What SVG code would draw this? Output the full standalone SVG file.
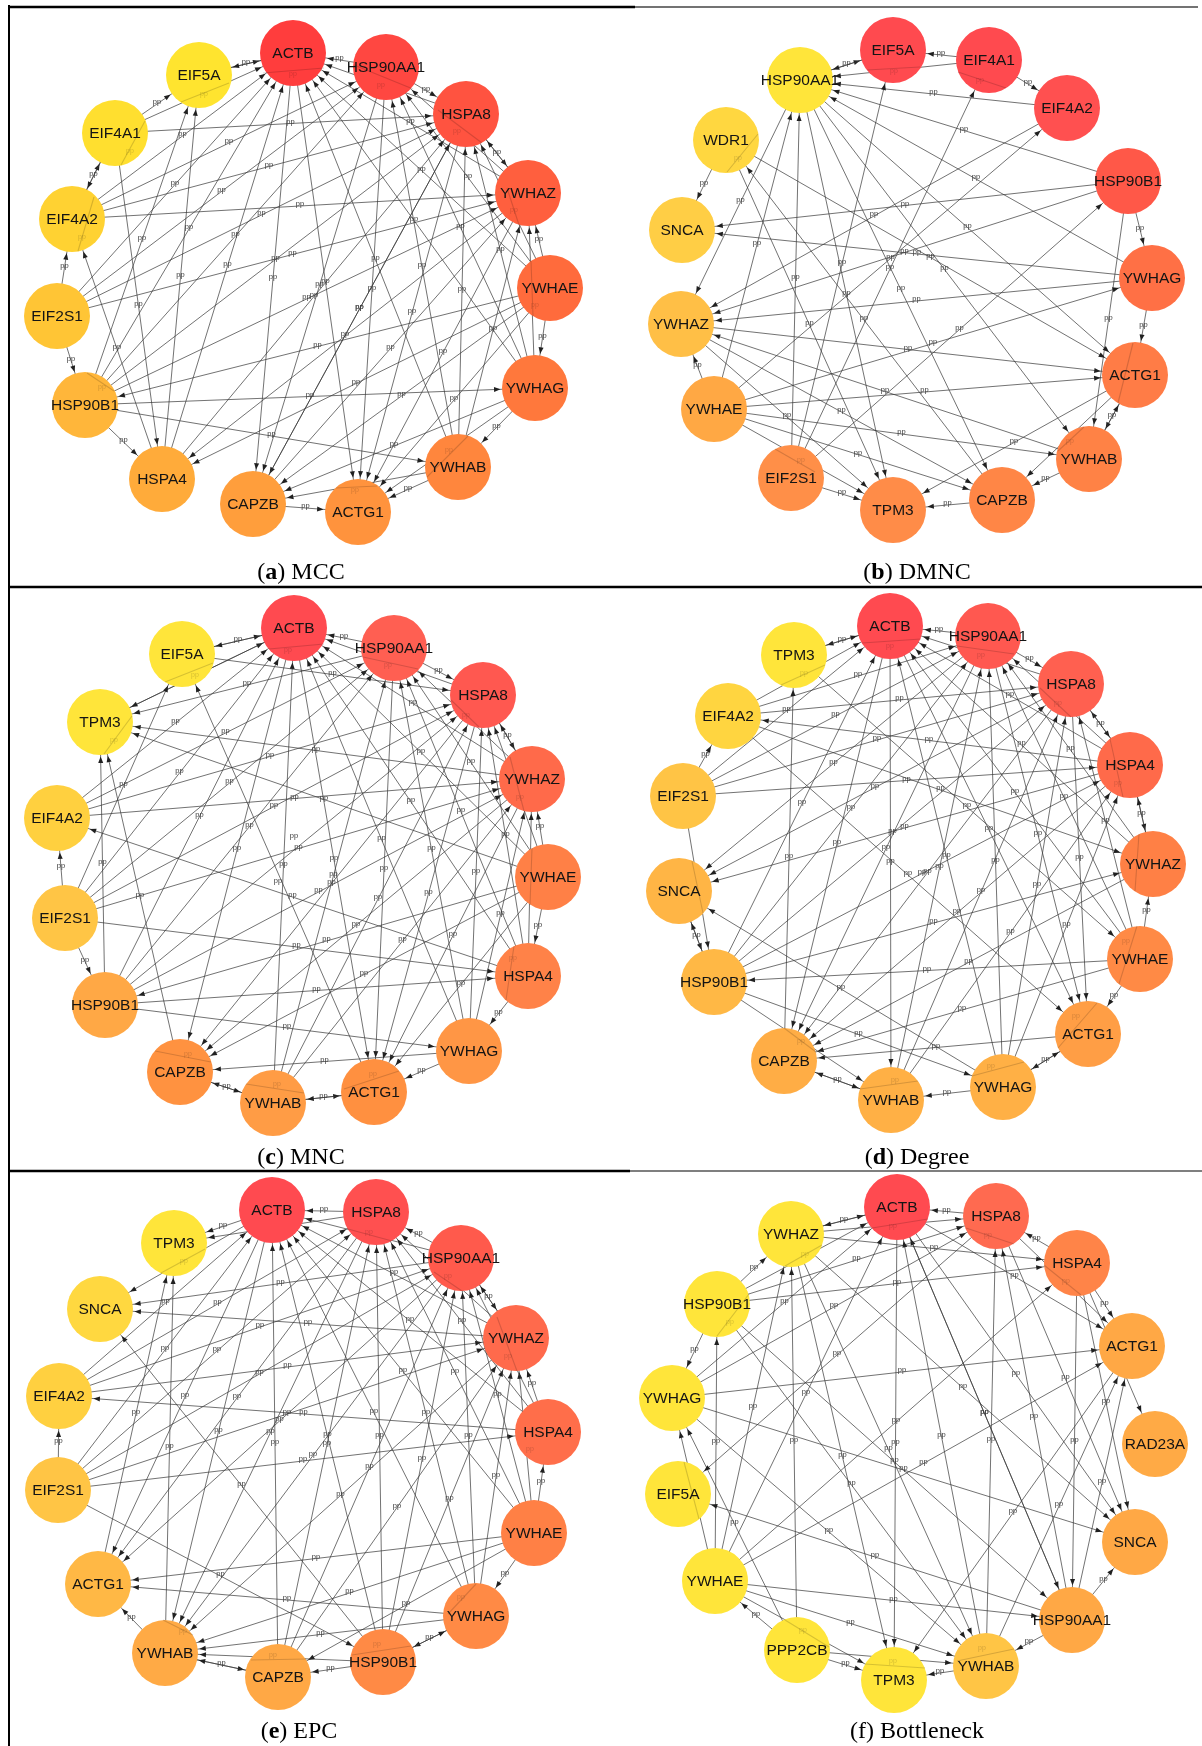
<svg xmlns="http://www.w3.org/2000/svg" width="1202" height="1746" viewBox="0 0 1202 1746">
<style>
.ed{opacity:.99}
.ed path{stroke:#333;stroke-width:.7;fill:none;marker-end:url(#ar)}
.ed text{font-family:"Liberation Sans",Arial,sans-serif;font-size:15px;text-anchor:middle;fill:#3a3a3a}
.lb{font-family:"Liberation Sans",Arial,sans-serif;font-size:15.5px;text-anchor:middle;fill:#141414}
.sl{stroke:#000;stroke-opacity:.16;stroke-width:1.1;fill:none}
.sp{font-family:"Liberation Sans",Arial,sans-serif;font-size:7px;text-anchor:middle;fill:#000;fill-opacity:.18}
.cap{font-family:"Liberation Serif","Times New Roman",serif;font-size:24px;text-anchor:middle;fill:#000}
.fr{fill:none}
</style>
<defs>
<marker id="ar" markerUnits="userSpaceOnUse" markerWidth="7" markerHeight="5" refX="41" refY="2.5" orient="auto" overflow="visible"><path d="M0 0L6.5 2.5L0 5z" fill="#1e1e1e"/></marker>
</defs>
<rect width="1202" height="1746" fill="#fff"/>
<g id="frame" class="fr">
<path d="M9 5V1746" stroke="#000" stroke-width="2"/>
<path d="M8 7H635" stroke="#000" stroke-width="2.5"/>
<path d="M635 7H1198" stroke="#444" stroke-width="1.5"/>
<path d="M8 587H1202" stroke="#000" stroke-width="2.5"/>
<path d="M8 1171H630" stroke="#000" stroke-width="2.5"/>
<path d="M630 1171H1202" stroke="#555" stroke-width="1.5"/>
</g>

<g id="edges-a" class="ed">
<path d="M199 75L293 53"/><text transform="scale(.5)translate(199 75)" x="293" y="53">pp</text>
<path d="M293 53L199 75"/>
<path d="M386 67L293 53"/><text transform="scale(.5)translate(386 67)" x="293" y="53">pp</text>
<path d="M386 67L466 114"/><text transform="scale(.5)translate(386 67)" x="466" y="114">pp</text>
<path d="M466 114L528 193"/><text transform="scale(.5)translate(466 114)" x="528" y="193">pp</text>
<path d="M528 193L466 114"/>
<path d="M550 288L528 193"/><text transform="scale(.5)translate(550 288)" x="528" y="193">pp</text>
<path d="M550 288L535 388"/><text transform="scale(.5)translate(550 288)" x="535" y="388">pp</text>
<path d="M535 388L458 467"/><text transform="scale(.5)translate(535 388)" x="458" y="467">pp</text>
<path d="M458 467L358 512"/><text transform="scale(.5)translate(458 467)" x="358" y="512">pp</text>
<path d="M253 504L358 512"/><text transform="scale(.5)translate(253 504)" x="358" y="512">pp</text>
<path d="M85 405L162 479"/><text transform="scale(.5)translate(85 405)" x="162" y="479">pp</text>
<path d="M57 316L85 405"/><text transform="scale(.5)translate(57 316)" x="85" y="405">pp</text>
<path d="M57 316L72 219"/><text transform="scale(.5)translate(57 316)" x="72" y="219">pp</text>
<path d="M72 219L115 133"/><text transform="scale(.5)translate(72 219)" x="115" y="133">pp</text>
<path d="M115 133L72 219"/>
<path d="M115 133L199 75"/><text transform="scale(.5)translate(115 133)" x="199" y="75">pp</text>
<path d="M115 133L466 114"/><text transform="scale(.5)translate(115 133)" x="466" y="114">pp</text>
<path d="M115 133L293 53"/>
<path d="M115 133L162 479"/><text transform="scale(.5)translate(115 133)" x="162" y="479">pp</text>
<path d="M72 219L528 193"/><text transform="scale(.5)translate(72 219)" x="528" y="193">pp</text>
<path d="M72 219L466 114"/><text transform="scale(.5)translate(72 219)" x="466" y="114">pp</text>
<path d="M72 219L293 53"/><text transform="scale(.5)translate(72 219)" x="293" y="53">pp</text>
<path d="M72 219L386 67"/><text transform="scale(.5)translate(72 219)" x="386" y="67">pp</text>
<path d="M162 479L72 219"/><text transform="scale(.5)translate(162 479)" x="72" y="219">pp</text>
<path d="M57 316L293 53"/><text transform="scale(.5)translate(57 316)" x="293" y="53">pp</text>
<path d="M57 316L386 67"/><text transform="scale(.5)translate(57 316)" x="386" y="67">pp</text>
<path d="M57 316L466 114"/><text transform="scale(.5)translate(57 316)" x="466" y="114">pp</text>
<path d="M57 316L528 193"/><text transform="scale(.5)translate(57 316)" x="528" y="193">pp</text>
<path d="M85 405L199 75"/><text transform="scale(.5)translate(85 405)" x="199" y="75">pp</text>
<path d="M85 405L293 53"/><text transform="scale(.5)translate(85 405)" x="293" y="53">pp</text>
<path d="M85 405L386 67"/><text transform="scale(.5)translate(85 405)" x="386" y="67">pp</text>
<path d="M85 405L466 114"/><text transform="scale(.5)translate(85 405)" x="466" y="114">pp</text>
<path d="M85 405L528 193"/><text transform="scale(.5)translate(85 405)" x="528" y="193">pp</text>
<path d="M85 405L535 388"/><text transform="scale(.5)translate(85 405)" x="535" y="388">pp</text>
<path d="M85 405L458 467"/><text transform="scale(.5)translate(85 405)" x="458" y="467">pp</text>
<path d="M550 288L85 405"/><text transform="scale(.5)translate(550 288)" x="85" y="405">pp</text>
<path d="M162 479L199 75"/><text transform="scale(.5)translate(162 479)" x="199" y="75">pp</text>
<path d="M162 479L293 53"/><text transform="scale(.5)translate(162 479)" x="293" y="53">pp</text>
<path d="M162 479L466 114"/><text transform="scale(.5)translate(162 479)" x="466" y="114">pp</text>
<path d="M528 193L162 479"/><text transform="scale(.5)translate(528 193)" x="162" y="479">pp</text>
<path d="M293 53L253 504"/><text transform="scale(.5)translate(293 53)" x="253" y="504">pp</text>
<path d="M386 67L253 504"/><text transform="scale(.5)translate(386 67)" x="253" y="504">pp</text>
<path d="M466 114L253 504"/><text transform="scale(.5)translate(466 114)" x="253" y="504">pp</text>
<path d="M550 288L253 504"/><text transform="scale(.5)translate(550 288)" x="253" y="504">pp</text>
<path d="M458 467L253 504"/>
<path d="M535 388L253 504"/><text transform="scale(.5)translate(535 388)" x="253" y="504">pp</text>
<path d="M293 53L358 512"/><text transform="scale(.5)translate(293 53)" x="358" y="512">pp</text>
<path d="M386 67L358 512"/><text transform="scale(.5)translate(386 67)" x="358" y="512">pp</text>
<path d="M466 114L358 512"/><text transform="scale(.5)translate(466 114)" x="358" y="512">pp</text>
<path d="M528 193L358 512"/><text transform="scale(.5)translate(528 193)" x="358" y="512">pp</text>
<path d="M550 288L358 512"/><text transform="scale(.5)translate(550 288)" x="358" y="512">pp</text>
<path d="M535 388L358 512"/>
<path d="M458 467L293 53"/><text transform="scale(.5)translate(458 467)" x="293" y="53">pp</text>
<path d="M458 467L386 67"/><text transform="scale(.5)translate(458 467)" x="386" y="67">pp</text>
<path d="M458 467L466 114"/><text transform="scale(.5)translate(458 467)" x="466" y="114">pp</text>
<path d="M458 467L528 193"/><text transform="scale(.5)translate(458 467)" x="528" y="193">pp</text>
<path d="M535 388L293 53"/><text transform="scale(.5)translate(535 388)" x="293" y="53">pp</text>
<path d="M535 388L386 67"/><text transform="scale(.5)translate(535 388)" x="386" y="67">pp</text>
<path d="M535 388L466 114"/><text transform="scale(.5)translate(535 388)" x="466" y="114">pp</text>
<path d="M535 388L528 193"/>
<path d="M550 288L293 53"/><text transform="scale(.5)translate(550 288)" x="293" y="53">pp</text>
<path d="M550 288L386 67"/><text transform="scale(.5)translate(550 288)" x="386" y="67">pp</text>
<path d="M550 288L466 114"/>
<path d="M528 193L293 53"/><text transform="scale(.5)translate(528 193)" x="293" y="53">pp</text>
<path d="M528 193L386 67"/>
<path d="M466 114L293 53"/>
<path d="M253 504L466 114"/><text transform="scale(.5)translate(253 504)" x="466" y="114">pp</text>
<path d="M253 504L528 193"/><text transform="scale(.5)translate(253 504)" x="528" y="193">pp</text>
<path d="M550 288L162 479"/><text transform="scale(.5)translate(550 288)" x="162" y="479">pp</text>
</g>

<g id="edges-b" class="ed">
<path d="M800 80L893 50"/><text transform="scale(.5)translate(800 80)" x="893" y="50">pp</text>
<path d="M893 50L800 80"/>
<path d="M989 60L893 50"/><text transform="scale(.5)translate(989 60)" x="893" y="50">pp</text>
<path d="M989 60L800 80"/>
<path d="M989 60L1067 108"/><text transform="scale(.5)translate(989 60)" x="1067" y="108">pp</text>
<path d="M1067 108L800 80"/><text transform="scale(.5)translate(1067 108)" x="800" y="80">pp</text>
<path d="M1128 181L800 80"/><text transform="scale(.5)translate(1128 181)" x="800" y="80">pp</text>
<path d="M1152 278L800 80"/><text transform="scale(.5)translate(1152 278)" x="800" y="80">pp</text>
<path d="M1128 181L1152 278"/><text transform="scale(.5)translate(1128 181)" x="1152" y="278">pp</text>
<path d="M1152 278L1135 375"/><text transform="scale(.5)translate(1152 278)" x="1135" y="375">pp</text>
<path d="M1135 375L1089 459"/><text transform="scale(.5)translate(1135 375)" x="1089" y="459">pp</text>
<path d="M1089 459L1135 375"/>
<path d="M1128 181L1089 459"/><text transform="scale(.5)translate(1128 181)" x="1089" y="459">pp</text>
<path d="M1089 459L1002 500"/><text transform="scale(.5)translate(1089 459)" x="1002" y="500">pp</text>
<path d="M1002 500L893 510"/><text transform="scale(.5)translate(1002 500)" x="893" y="510">pp</text>
<path d="M714 409L681 324"/><text transform="scale(.5)translate(714 409)" x="681" y="324">pp</text>
<path d="M726 140L682 230"/><text transform="scale(.5)translate(726 140)" x="682" y="230">pp</text>
<path d="M800 80L681 324"/><text transform="scale(.5)translate(800 80)" x="681" y="324">pp</text>
<path d="M800 80L893 510"/><text transform="scale(.5)translate(800 80)" x="893" y="510">pp</text>
<path d="M800 80L1002 500"/><text transform="scale(.5)translate(800 80)" x="1002" y="500">pp</text>
<path d="M800 80L1089 459"/><text transform="scale(.5)translate(800 80)" x="1089" y="459">pp</text>
<path d="M800 80L1135 375"/><text transform="scale(.5)translate(800 80)" x="1135" y="375">pp</text>
<path d="M726 140L1135 375"/><text transform="scale(.5)translate(726 140)" x="1135" y="375">pp</text>
<path d="M726 140L893 510"/><text transform="scale(.5)translate(726 140)" x="893" y="510">pp</text>
<path d="M791 478L800 80"/><text transform="scale(.5)translate(791 478)" x="800" y="80">pp</text>
<path d="M714 409L800 80"/><text transform="scale(.5)translate(714 409)" x="800" y="80">pp</text>
<path d="M791 478L893 50"/><text transform="scale(.5)translate(791 478)" x="893" y="50">pp</text>
<path d="M791 478L989 60"/><text transform="scale(.5)translate(791 478)" x="989" y="60">pp</text>
<path d="M791 478L1128 181"/><text transform="scale(.5)translate(791 478)" x="1128" y="181">pp</text>
<path d="M791 478L893 510"/><text transform="scale(.5)translate(791 478)" x="893" y="510">pp</text>
<path d="M714 409L1067 108"/><text transform="scale(.5)translate(714 409)" x="1067" y="108">pp</text>
<path d="M714 409L1152 278"/><text transform="scale(.5)translate(714 409)" x="1152" y="278">pp</text>
<path d="M714 409L1135 375"/><text transform="scale(.5)translate(714 409)" x="1135" y="375">pp</text>
<path d="M714 409L1089 459"/><text transform="scale(.5)translate(714 409)" x="1089" y="459">pp</text>
<path d="M714 409L1002 500"/><text transform="scale(.5)translate(714 409)" x="1002" y="500">pp</text>
<path d="M714 409L893 510"/>
<path d="M1128 181L682 230"/><text transform="scale(.5)translate(1128 181)" x="682" y="230">pp</text>
<path d="M1152 278L682 230"/><text transform="scale(.5)translate(1152 278)" x="682" y="230">pp</text>
<path d="M1128 181L681 324"/><text transform="scale(.5)translate(1128 181)" x="681" y="324">pp</text>
<path d="M1152 278L681 324"/><text transform="scale(.5)translate(1152 278)" x="681" y="324">pp</text>
<path d="M1067 108L681 324"/><text transform="scale(.5)translate(1067 108)" x="681" y="324">pp</text>
<path d="M681 324L1135 375"/><text transform="scale(.5)translate(681 324)" x="1135" y="375">pp</text>
<path d="M1089 459L681 324"/><text transform="scale(.5)translate(1089 459)" x="681" y="324">pp</text>
<path d="M681 324L893 510"/><text transform="scale(.5)translate(681 324)" x="893" y="510">pp</text>
<path d="M681 324L1002 500"/><text transform="scale(.5)translate(681 324)" x="1002" y="500">pp</text>
<path d="M1135 375L893 510"/><text transform="scale(.5)translate(1135 375)" x="893" y="510">pp</text>
<path d="M1135 375L1002 500"/>
<path d="M1002 500L726 140"/><text transform="scale(.5)translate(1002 500)" x="726" y="140">pp</text>
</g>

<g id="edges-c" class="ed">
<path d="M182 654L294 628"/><text transform="scale(.5)translate(182 654)" x="294" y="628">pp</text>
<path d="M294 628L182 654"/>
<path d="M394 648L294 628"/><text transform="scale(.5)translate(394 648)" x="294" y="628">pp</text>
<path d="M394 648L483 695"/><text transform="scale(.5)translate(394 648)" x="483" y="695">pp</text>
<path d="M483 695L532 779"/><text transform="scale(.5)translate(483 695)" x="532" y="779">pp</text>
<path d="M532 779L483 695"/>
<path d="M548 877L532 779"/><text transform="scale(.5)translate(548 877)" x="532" y="779">pp</text>
<path d="M548 877L528 976"/><text transform="scale(.5)translate(548 877)" x="528" y="976">pp</text>
<path d="M528 976L469 1051"/><text transform="scale(.5)translate(528 976)" x="469" y="1051">pp</text>
<path d="M469 1051L374 1092"/><text transform="scale(.5)translate(469 1051)" x="374" y="1092">pp</text>
<path d="M273 1103L374 1092"/><text transform="scale(.5)translate(273 1103)" x="374" y="1092">pp</text>
<path d="M374 1092L273 1103"/>
<path d="M273 1103L180 1072"/><text transform="scale(.5)translate(273 1103)" x="180" y="1072">pp</text>
<path d="M180 1072L273 1103"/>
<path d="M65 918L105 1005"/><text transform="scale(.5)translate(65 918)" x="105" y="1005">pp</text>
<path d="M65 918L57 818"/><text transform="scale(.5)translate(65 918)" x="57" y="818">pp</text>
<path d="M182 654L483 695"/><text transform="scale(.5)translate(182 654)" x="483" y="695">pp</text>
<path d="M100 722L294 628"/>
<path d="M294 628L100 722"/>
<path d="M394 648L100 722"/><text transform="scale(.5)translate(394 648)" x="100" y="722">pp</text>
<path d="M532 779L100 722"/><text transform="scale(.5)translate(532 779)" x="100" y="722">pp</text>
<path d="M548 877L100 722"/><text transform="scale(.5)translate(548 877)" x="100" y="722">pp</text>
<path d="M528 976L57 818"/><text transform="scale(.5)translate(528 976)" x="57" y="818">pp</text>
<path d="M57 818L532 779"/><text transform="scale(.5)translate(57 818)" x="532" y="779">pp</text>
<path d="M57 818L483 695"/><text transform="scale(.5)translate(57 818)" x="483" y="695">pp</text>
<path d="M57 818L394 648"/><text transform="scale(.5)translate(57 818)" x="394" y="648">pp</text>
<path d="M57 818L294 628"/><text transform="scale(.5)translate(57 818)" x="294" y="628">pp</text>
<path d="M65 918L182 654"/><text transform="scale(.5)translate(65 918)" x="182" y="654">pp</text>
<path d="M65 918L294 628"/><text transform="scale(.5)translate(65 918)" x="294" y="628">pp</text>
<path d="M65 918L394 648"/><text transform="scale(.5)translate(65 918)" x="394" y="648">pp</text>
<path d="M65 918L483 695"/><text transform="scale(.5)translate(65 918)" x="483" y="695">pp</text>
<path d="M65 918L532 779"/><text transform="scale(.5)translate(65 918)" x="532" y="779">pp</text>
<path d="M65 918L528 976"/><text transform="scale(.5)translate(65 918)" x="528" y="976">pp</text>
<path d="M105 1005L294 628"/><text transform="scale(.5)translate(105 1005)" x="294" y="628">pp</text>
<path d="M105 1005L394 648"/><text transform="scale(.5)translate(105 1005)" x="394" y="648">pp</text>
<path d="M105 1005L483 695"/><text transform="scale(.5)translate(105 1005)" x="483" y="695" dy="-24">pp</text>
<path d="M105 1005L532 779"/><text transform="scale(.5)translate(105 1005)" x="532" y="779">pp</text>
<path d="M105 1005L100 722"/><text transform="scale(.5)translate(105 1005)" x="100" y="722">pp</text>
<path d="M105 1005L528 976"/><text transform="scale(.5)translate(105 1005)" x="528" y="976">pp</text>
<path d="M105 1005L469 1051"/><text transform="scale(.5)translate(105 1005)" x="469" y="1051">pp</text>
<path d="M548 877L105 1005"/><text transform="scale(.5)translate(548 877)" x="105" y="1005">pp</text>
<path d="M180 1072L100 722"/><text transform="scale(.5)translate(180 1072)" x="100" y="722">pp</text>
<path d="M294 628L180 1072"/><text transform="scale(.5)translate(294 628)" x="180" y="1072">pp</text>
<path d="M483 695L180 1072"/><text transform="scale(.5)translate(483 695)" x="180" y="1072">pp</text>
<path d="M532 779L180 1072"/><text transform="scale(.5)translate(532 779)" x="180" y="1072">pp</text>
<path d="M548 877L180 1072"/><text transform="scale(.5)translate(548 877)" x="180" y="1072">pp</text>
<path d="M273 1103L294 628"/><text transform="scale(.5)translate(273 1103)" x="294" y="628">pp</text>
<path d="M273 1103L394 648"/><text transform="scale(.5)translate(273 1103)" x="394" y="648">pp</text>
<path d="M273 1103L483 695"/><text transform="scale(.5)translate(273 1103)" x="483" y="695">pp</text>
<path d="M273 1103L532 779"/><text transform="scale(.5)translate(273 1103)" x="532" y="779">pp</text>
<path d="M294 628L374 1092"/><text transform="scale(.5)translate(294 628)" x="374" y="1092">pp</text>
<path d="M394 648L374 1092"/><text transform="scale(.5)translate(394 648)" x="374" y="1092">pp</text>
<path d="M483 695L374 1092"/><text transform="scale(.5)translate(483 695)" x="374" y="1092">pp</text>
<path d="M532 779L374 1092"/><text transform="scale(.5)translate(532 779)" x="374" y="1092">pp</text>
<path d="M548 877L374 1092"/><text transform="scale(.5)translate(548 877)" x="374" y="1092">pp</text>
<path d="M469 1051L294 628"/><text transform="scale(.5)translate(469 1051)" x="294" y="628">pp</text>
<path d="M469 1051L394 648"/><text transform="scale(.5)translate(469 1051)" x="394" y="648">pp</text>
<path d="M469 1051L483 695"/><text transform="scale(.5)translate(469 1051)" x="483" y="695">pp</text>
<path d="M469 1051L532 779"/><text transform="scale(.5)translate(469 1051)" x="532" y="779">pp</text>
<path d="M528 976L294 628"/><text transform="scale(.5)translate(528 976)" x="294" y="628">pp</text>
<path d="M528 976L394 648"/><text transform="scale(.5)translate(528 976)" x="394" y="648">pp</text>
<path d="M528 976L483 695"/><text transform="scale(.5)translate(528 976)" x="483" y="695">pp</text>
<path d="M528 976L532 779"/>
<path d="M548 877L294 628"/><text transform="scale(.5)translate(548 877)" x="294" y="628">pp</text>
<path d="M548 877L394 648"/><text transform="scale(.5)translate(548 877)" x="394" y="648">pp</text>
<path d="M548 877L483 695"/>
<path d="M532 779L294 628"/><text transform="scale(.5)translate(532 779)" x="294" y="628">pp</text>
<path d="M532 779L394 648"/>
<path d="M483 695L294 628"/>
<path d="M374 1092L182 654"/><text transform="scale(.5)translate(374 1092)" x="182" y="654" dy="20">pp</text>
<path d="M469 1051L180 1072"/><text transform="scale(.5)translate(469 1051)" x="180" y="1072">pp</text>
</g>

<g id="edges-d" class="ed">
<path d="M890 626L794 655"/><text transform="scale(.5)translate(890 626)" x="794" y="655">pp</text>
<path d="M794 655L890 626"/>
<path d="M988 636L890 626"/><text transform="scale(.5)translate(988 636)" x="890" y="626">pp</text>
<path d="M988 636L1071 684"/><text transform="scale(.5)translate(988 636)" x="1071" y="684">pp</text>
<path d="M1130 765L1071 684"/><text transform="scale(.5)translate(1130 765)" x="1071" y="684">pp</text>
<path d="M1071 684L1130 765"/>
<path d="M1130 765L1153 864"/><text transform="scale(.5)translate(1130 765)" x="1153" y="864">pp</text>
<path d="M1153 864L1130 765"/>
<path d="M1140 959L1153 864"/><text transform="scale(.5)translate(1140 959)" x="1153" y="864">pp</text>
<path d="M1140 959L1088 1034"/><text transform="scale(.5)translate(1140 959)" x="1088" y="1034">pp</text>
<path d="M1088 1034L1003 1087"/><text transform="scale(.5)translate(1088 1034)" x="1003" y="1087">pp</text>
<path d="M1003 1087L1088 1034"/>
<path d="M1003 1087L891 1100"/><text transform="scale(.5)translate(1003 1087)" x="891" y="1100">pp</text>
<path d="M891 1100L784 1061"/><text transform="scale(.5)translate(891 1100)" x="784" y="1061">pp</text>
<path d="M784 1061L891 1100"/>
<path d="M679 891L714 982"/><text transform="scale(.5)translate(679 891)" x="714" y="982">pp</text>
<path d="M714 982L679 891"/>
<path d="M683 796L728 716"/><text transform="scale(.5)translate(683 796)" x="728" y="716">pp</text>
<path d="M683 796L714 982"/>
<path d="M728 716L1071 684"/><text transform="scale(.5)translate(728 716)" x="1071" y="684">pp</text>
<path d="M728 716L988 636"/><text transform="scale(.5)translate(728 716)" x="988" y="636">pp</text>
<path d="M728 716L890 626"/>
<path d="M1130 765L728 716"/><text transform="scale(.5)translate(1130 765)" x="728" y="716">pp</text>
<path d="M728 716L1153 864"/><text transform="scale(.5)translate(728 716)" x="1153" y="864">pp</text>
<path d="M683 796L1130 765"/><text transform="scale(.5)translate(683 796)" x="1130" y="765">pp</text>
<path d="M683 796L1071 684"/><text transform="scale(.5)translate(683 796)" x="1071" y="684">pp</text>
<path d="M683 796L988 636"/><text transform="scale(.5)translate(683 796)" x="988" y="636">pp</text>
<path d="M683 796L890 626"/><text transform="scale(.5)translate(683 796)" x="890" y="626">pp</text>
<path d="M784 1061L794 655"/><text transform="scale(.5)translate(784 1061)" x="794" y="655">pp</text>
<path d="M714 982L890 626"/><text transform="scale(.5)translate(714 982)" x="890" y="626">pp</text>
<path d="M714 982L988 636"/><text transform="scale(.5)translate(714 982)" x="988" y="636">pp</text>
<path d="M714 982L1071 684"/><text transform="scale(.5)translate(714 982)" x="1071" y="684">pp</text>
<path d="M714 982L1130 765"/><text transform="scale(.5)translate(714 982)" x="1130" y="765">pp</text>
<path d="M714 982L1153 864"/><text transform="scale(.5)translate(714 982)" x="1153" y="864">pp</text>
<path d="M1140 959L714 982"/><text transform="scale(.5)translate(1140 959)" x="714" y="982">pp</text>
<path d="M714 982L891 1100"/>
<path d="M714 982L1003 1087"/><text transform="scale(.5)translate(714 982)" x="1003" y="1087">pp</text>
<path d="M988 636L679 891"/><text transform="scale(.5)translate(988 636)" x="679" y="891">pp</text>
<path d="M1071 684L679 891"/><text transform="scale(.5)translate(1071 684)" x="679" y="891">pp</text>
<path d="M1130 765L679 891"/><text transform="scale(.5)translate(1130 765)" x="679" y="891">pp</text>
<path d="M1003 1087L679 891"/><text transform="scale(.5)translate(1003 1087)" x="679" y="891">pp</text>
<path d="M890 626L891 1100"/><text transform="scale(.5)translate(890 626)" x="891" y="1100">pp</text>
<path d="M890 626L784 1061"/><text transform="scale(.5)translate(890 626)" x="784" y="1061">pp</text>
<path d="M988 636L784 1061"/><text transform="scale(.5)translate(988 636)" x="784" y="1061">pp</text>
<path d="M1071 684L784 1061"/><text transform="scale(.5)translate(1071 684)" x="784" y="1061">pp</text>
<path d="M1130 765L784 1061"/><text transform="scale(.5)translate(1130 765)" x="784" y="1061">pp</text>
<path d="M1153 864L784 1061"/><text transform="scale(.5)translate(1153 864)" x="784" y="1061">pp</text>
<path d="M1140 959L784 1061"/><text transform="scale(.5)translate(1140 959)" x="784" y="1061">pp</text>
<path d="M1088 1034L784 1061"/><text transform="scale(.5)translate(1088 1034)" x="784" y="1061">pp</text>
<path d="M891 1100L988 636"/><text transform="scale(.5)translate(891 1100)" x="988" y="636">pp</text>
<path d="M891 1100L1071 684"/><text transform="scale(.5)translate(891 1100)" x="1071" y="684">pp</text>
<path d="M891 1100L1130 765"/><text transform="scale(.5)translate(891 1100)" x="1130" y="765">pp</text>
<path d="M1003 1087L890 626"/><text transform="scale(.5)translate(1003 1087)" x="890" y="626">pp</text>
<path d="M1003 1087L988 636"/><text transform="scale(.5)translate(1003 1087)" x="988" y="636">pp</text>
<path d="M1003 1087L1071 684"/><text transform="scale(.5)translate(1003 1087)" x="1071" y="684">pp</text>
<path d="M1003 1087L1130 765"/><text transform="scale(.5)translate(1003 1087)" x="1130" y="765">pp</text>
<path d="M890 626L1088 1034"/><text transform="scale(.5)translate(890 626)" x="1088" y="1034">pp</text>
<path d="M988 636L1088 1034"/><text transform="scale(.5)translate(988 636)" x="1088" y="1034">pp</text>
<path d="M1071 684L1088 1034"/><text transform="scale(.5)translate(1071 684)" x="1088" y="1034">pp</text>
<path d="M1140 959L890 626"/><text transform="scale(.5)translate(1140 959)" x="890" y="626">pp</text>
<path d="M1140 959L988 636"/><text transform="scale(.5)translate(1140 959)" x="988" y="636">pp</text>
<path d="M1140 959L1071 684"/><text transform="scale(.5)translate(1140 959)" x="1071" y="684">pp</text>
<path d="M1153 864L890 626"/><text transform="scale(.5)translate(1153 864)" x="890" y="626">pp</text>
<path d="M1153 864L988 636"/><text transform="scale(.5)translate(1153 864)" x="988" y="636">pp</text>
<path d="M1130 765L890 626"/><text transform="scale(.5)translate(1130 765)" x="890" y="626">pp</text>
<path d="M1130 765L988 636"/>
<path d="M1071 684L890 626"/>
<path d="M794 655L1140 959"/><text transform="scale(.5)translate(794 655)" x="1140" y="959">pp</text>
<path d="M728 716L1088 1034"/><text transform="scale(.5)translate(728 716)" x="1088" y="1034">pp</text>
</g>

<g id="edges-e" class="ed">
<path d="M376 1212L272 1210"/><text transform="scale(.5)translate(376 1212)" x="272" y="1210">pp</text>
<path d="M272 1210L174 1243"/><text transform="scale(.5)translate(272 1210)" x="174" y="1243">pp</text>
<path d="M272 1210L100 1309"/>
<path d="M461 1258L376 1212"/><text transform="scale(.5)translate(461 1258)" x="376" y="1212">pp</text>
<path d="M461 1258L516 1338"/><text transform="scale(.5)translate(461 1258)" x="516" y="1338">pp</text>
<path d="M516 1338L461 1258"/>
<path d="M548 1432L516 1338"/><text transform="scale(.5)translate(548 1432)" x="516" y="1338">pp</text>
<path d="M534 1533L548 1432"/><text transform="scale(.5)translate(534 1533)" x="548" y="1432">pp</text>
<path d="M534 1533L476 1616"/><text transform="scale(.5)translate(534 1533)" x="476" y="1616">pp</text>
<path d="M476 1616L383 1662"/><text transform="scale(.5)translate(476 1616)" x="383" y="1662">pp</text>
<path d="M383 1662L476 1616"/>
<path d="M383 1662L278 1677"/><text transform="scale(.5)translate(383 1662)" x="278" y="1677">pp</text>
<path d="M165 1653L278 1677"/><text transform="scale(.5)translate(165 1653)" x="278" y="1677">pp</text>
<path d="M278 1677L165 1653"/>
<path d="M165 1653L98 1584"/><text transform="scale(.5)translate(165 1653)" x="98" y="1584">pp</text>
<path d="M58 1490L59 1396"/><text transform="scale(.5)translate(58 1490)" x="59" y="1396">pp</text>
<path d="M59 1396L516 1338"/><text transform="scale(.5)translate(59 1396)" x="516" y="1338">pp</text>
<path d="M548 1432L59 1396"/><text transform="scale(.5)translate(548 1432)" x="59" y="1396">pp</text>
<path d="M58 1490L548 1432"/><text transform="scale(.5)translate(58 1490)" x="548" y="1432">pp</text>
<path d="M58 1490L383 1662"/><text transform="scale(.5)translate(58 1490)" x="383" y="1662">pp</text>
<path d="M59 1396L272 1210"/><text transform="scale(.5)translate(59 1396)" x="272" y="1210">pp</text>
<path d="M59 1396L376 1212"/><text transform="scale(.5)translate(59 1396)" x="376" y="1212">pp</text>
<path d="M59 1396L461 1258"/><text transform="scale(.5)translate(59 1396)" x="461" y="1258">pp</text>
<path d="M58 1490L272 1210"/><text transform="scale(.5)translate(58 1490)" x="272" y="1210">pp</text>
<path d="M58 1490L376 1212"/><text transform="scale(.5)translate(58 1490)" x="376" y="1212">pp</text>
<path d="M58 1490L461 1258"/><text transform="scale(.5)translate(58 1490)" x="461" y="1258">pp</text>
<path d="M58 1490L516 1338"/><text transform="scale(.5)translate(58 1490)" x="516" y="1338">pp</text>
<path d="M272 1210L98 1584"/><text transform="scale(.5)translate(272 1210)" x="98" y="1584">pp</text>
<path d="M376 1212L98 1584"/><text transform="scale(.5)translate(376 1212)" x="98" y="1584">pp</text>
<path d="M461 1258L98 1584"/><text transform="scale(.5)translate(461 1258)" x="98" y="1584">pp</text>
<path d="M534 1533L98 1584"/><text transform="scale(.5)translate(534 1533)" x="98" y="1584">pp</text>
<path d="M476 1616L98 1584"/><text transform="scale(.5)translate(476 1616)" x="98" y="1584">pp</text>
<path d="M98 1584L174 1243"/><text transform="scale(.5)translate(98 1584)" x="174" y="1243">pp</text>
<path d="M165 1653L174 1243"/><text transform="scale(.5)translate(165 1653)" x="174" y="1243">pp</text>
<path d="M272 1210L165 1653"/><text transform="scale(.5)translate(272 1210)" x="165" y="1653">pp</text>
<path d="M376 1212L165 1653"/><text transform="scale(.5)translate(376 1212)" x="165" y="1653">pp</text>
<path d="M461 1258L165 1653"/><text transform="scale(.5)translate(461 1258)" x="165" y="1653">pp</text>
<path d="M516 1338L165 1653"/><text transform="scale(.5)translate(516 1338)" x="165" y="1653">pp</text>
<path d="M278 1677L272 1210"/><text transform="scale(.5)translate(278 1677)" x="272" y="1210">pp</text>
<path d="M278 1677L376 1212"/><text transform="scale(.5)translate(278 1677)" x="376" y="1212">pp</text>
<path d="M278 1677L461 1258"/><text transform="scale(.5)translate(278 1677)" x="461" y="1258">pp</text>
<path d="M278 1677L516 1338"/><text transform="scale(.5)translate(278 1677)" x="516" y="1338">pp</text>
<path d="M383 1662L272 1210"/><text transform="scale(.5)translate(383 1662)" x="272" y="1210">pp</text>
<path d="M383 1662L376 1212"/><text transform="scale(.5)translate(383 1662)" x="376" y="1212">pp</text>
<path d="M383 1662L461 1258"/><text transform="scale(.5)translate(383 1662)" x="461" y="1258">pp</text>
<path d="M383 1662L516 1338"/><text transform="scale(.5)translate(383 1662)" x="516" y="1338">pp</text>
<path d="M383 1662L100 1309"/><text transform="scale(.5)translate(383 1662)" x="100" y="1309">pp</text>
<path d="M476 1616L272 1210"/><text transform="scale(.5)translate(476 1616)" x="272" y="1210">pp</text>
<path d="M476 1616L376 1212"/><text transform="scale(.5)translate(476 1616)" x="376" y="1212">pp</text>
<path d="M476 1616L461 1258"/><text transform="scale(.5)translate(476 1616)" x="461" y="1258">pp</text>
<path d="M476 1616L516 1338"/><text transform="scale(.5)translate(476 1616)" x="516" y="1338">pp</text>
<path d="M534 1533L272 1210"/><text transform="scale(.5)translate(534 1533)" x="272" y="1210">pp</text>
<path d="M534 1533L376 1212"/><text transform="scale(.5)translate(534 1533)" x="376" y="1212">pp</text>
<path d="M534 1533L461 1258"/><text transform="scale(.5)translate(534 1533)" x="461" y="1258">pp</text>
<path d="M534 1533L516 1338"/>
<path d="M548 1432L272 1210"/><text transform="scale(.5)translate(548 1432)" x="272" y="1210">pp</text>
<path d="M548 1432L376 1212"/><text transform="scale(.5)translate(548 1432)" x="376" y="1212">pp</text>
<path d="M548 1432L461 1258"/>
<path d="M516 1338L272 1210"/><text transform="scale(.5)translate(516 1338)" x="272" y="1210">pp</text>
<path d="M516 1338L376 1212"/>
<path d="M461 1258L272 1210"/>
<path d="M534 1533L165 1653"/><text transform="scale(.5)translate(534 1533)" x="165" y="1653">pp</text>
<path d="M534 1533L278 1677"/><text transform="scale(.5)translate(534 1533)" x="278" y="1677">pp</text>
<path d="M476 1616L165 1653"/><text transform="scale(.5)translate(476 1616)" x="165" y="1653">pp</text>
<path d="M383 1662L165 1653"/>
<path d="M376 1212L174 1243"/>
<path d="M461 1258L100 1309"/><text transform="scale(.5)translate(461 1258)" x="100" y="1309">pp</text>
<path d="M516 1338L100 1309"/><text transform="scale(.5)translate(516 1338)" x="100" y="1309">pp</text>
</g>

<g id="edges-f" class="ed">
<path d="M791 1234L897 1207"/><text transform="scale(.5)translate(791 1234)" x="897" y="1207">pp</text>
<path d="M897 1207L791 1234"/>
<path d="M996 1216L897 1207"/><text transform="scale(.5)translate(996 1216)" x="897" y="1207">pp</text>
<path d="M1077 1263L996 1216"/><text transform="scale(.5)translate(1077 1263)" x="996" y="1216">pp</text>
<path d="M1077 1263L1132 1346"/><text transform="scale(.5)translate(1077 1263)" x="1132" y="1346">pp</text>
<path d="M1077 1263L1155 1444"/>
<path d="M1072 1620L1135 1542"/><text transform="scale(.5)translate(1072 1620)" x="1135" y="1542">pp</text>
<path d="M1072 1620L986 1666"/><text transform="scale(.5)translate(1072 1620)" x="986" y="1666">pp</text>
<path d="M986 1666L894 1680"/><text transform="scale(.5)translate(986 1666)" x="894" y="1680">pp</text>
<path d="M797 1650L894 1680"/><text transform="scale(.5)translate(797 1650)" x="894" y="1680">pp</text>
<path d="M797 1650L715 1581"/><text transform="scale(.5)translate(797 1650)" x="715" y="1581">pp</text>
<path d="M797 1650L986 1666"/>
<path d="M717 1304L791 1234"/><text transform="scale(.5)translate(717 1304)" x="791" y="1234">pp</text>
<path d="M717 1304L672 1398"/><text transform="scale(.5)translate(717 1304)" x="672" y="1398">pp</text>
<path d="M715 1581L717 1304"/><text transform="scale(.5)translate(715 1581)" x="717" y="1304">pp</text>
<path d="M715 1581L672 1398"/>
<path d="M797 1650L672 1398"/><text transform="scale(.5)translate(797 1650)" x="672" y="1398">pp</text>
<path d="M797 1650L791 1234"/><text transform="scale(.5)translate(797 1650)" x="791" y="1234">pp</text>
<path d="M715 1581L791 1234"/><text transform="scale(.5)translate(715 1581)" x="791" y="1234">pp</text>
<path d="M715 1581L897 1207"/><text transform="scale(.5)translate(715 1581)" x="897" y="1207">pp</text>
<path d="M715 1581L1077 1263"/><text transform="scale(.5)translate(715 1581)" x="1077" y="1263">pp</text>
<path d="M715 1581L1132 1346"/><text transform="scale(.5)translate(715 1581)" x="1132" y="1346">pp</text>
<path d="M715 1581L1072 1620"/><text transform="scale(.5)translate(715 1581)" x="1072" y="1620">pp</text>
<path d="M715 1581L986 1666"/><text transform="scale(.5)translate(715 1581)" x="986" y="1666">pp</text>
<path d="M715 1581L894 1680"/>
<path d="M672 1398L1132 1346"/><text transform="scale(.5)translate(672 1398)" x="1132" y="1346">pp</text>
<path d="M672 1398L897 1207"/><text transform="scale(.5)translate(672 1398)" x="897" y="1207">pp</text>
<path d="M672 1398L996 1216"/><text transform="scale(.5)translate(672 1398)" x="996" y="1216">pp</text>
<path d="M672 1398L1135 1542"/><text transform="scale(.5)translate(672 1398)" x="1135" y="1542">pp</text>
<path d="M672 1398L986 1666"/><text transform="scale(.5)translate(672 1398)" x="986" y="1666">pp</text>
<path d="M1072 1620L678 1494"/><text transform="scale(.5)translate(1072 1620)" x="678" y="1494">pp</text>
<path d="M996 1216L678 1494"/><text transform="scale(.5)translate(996 1216)" x="678" y="1494">pp</text>
<path d="M717 1304L1077 1263"/><text transform="scale(.5)translate(717 1304)" x="1077" y="1263">pp</text>
<path d="M717 1304L996 1216"/><text transform="scale(.5)translate(717 1304)" x="996" y="1216">pp</text>
<path d="M717 1304L897 1207"/>
<path d="M717 1304L1072 1620"/><text transform="scale(.5)translate(717 1304)" x="1072" y="1620">pp</text>
<path d="M717 1304L986 1666"/><text transform="scale(.5)translate(717 1304)" x="986" y="1666">pp</text>
<path d="M791 1234L996 1216"/>
<path d="M791 1234L1077 1263"/><text transform="scale(.5)translate(791 1234)" x="1077" y="1263">pp</text>
<path d="M791 1234L894 1680"/><text transform="scale(.5)translate(791 1234)" x="894" y="1680">pp</text>
<path d="M791 1234L986 1666"/><text transform="scale(.5)translate(791 1234)" x="986" y="1666">pp</text>
<path d="M791 1234L1135 1542"/><text transform="scale(.5)translate(791 1234)" x="1135" y="1542">pp</text>
<path d="M897 1207L894 1680"/><text transform="scale(.5)translate(897 1207)" x="894" y="1680">pp</text>
<path d="M986 1666L897 1207"/><text transform="scale(.5)translate(986 1666)" x="897" y="1207">pp</text>
<path d="M986 1666L996 1216"/><text transform="scale(.5)translate(986 1666)" x="996" y="1216">pp</text>
<path d="M986 1666L1132 1346"/><text transform="scale(.5)translate(986 1666)" x="1132" y="1346">pp</text>
<path d="M1072 1620L897 1207"/><text transform="scale(.5)translate(1072 1620)" x="897" y="1207">pp</text>
<path d="M1072 1620L996 1216"/><text transform="scale(.5)translate(1072 1620)" x="996" y="1216">pp</text>
<path d="M1077 1263L1072 1620"/><text transform="scale(.5)translate(1077 1263)" x="1072" y="1620">pp</text>
<path d="M1072 1620L1132 1346"/><text transform="scale(.5)translate(1072 1620)" x="1132" y="1346">pp</text>
<path d="M1132 1346L894 1680"/><text transform="scale(.5)translate(1132 1346)" x="894" y="1680">pp</text>
<path d="M897 1207L1135 1542"/><text transform="scale(.5)translate(897 1207)" x="1135" y="1542">pp</text>
<path d="M996 1216L1135 1542"/><text transform="scale(.5)translate(996 1216)" x="1135" y="1542">pp</text>
<path d="M1077 1263L1135 1542"/><text transform="scale(.5)translate(1077 1263)" x="1135" y="1542">pp</text>
<path d="M897 1207L1132 1346"/><text transform="scale(.5)translate(897 1207)" x="1132" y="1346">pp</text>
<path d="M996 1216L1132 1346"/>
<path d="M897 1207L1072 1620"/><text transform="scale(.5)translate(897 1207)" x="1072" y="1620">pp</text>
</g>

<g id="nodes-a">
<g id="a-ACTB" transform="translate(293 53)"><circle r="33" fill="#FF3D3D"/><path class="sl" d="M-30 20L31 15"/><text class="sp" y="23">pp</text><text class="lb" y="5">ACTB</text></g>
<g id="a-HSP90AA1" transform="translate(386 67)"><circle r="33" fill="#FF4741"/><path class="sl" d="M-32 -2L27 22"/><text class="sp" x="-5" y="20">pp</text><text class="lb" y="5">HSP90AA1</text></g>
<g id="a-HSPA8" transform="translate(466 114)"><circle r="33" fill="#FF5340"/><path class="sl" d="M-28 -4L16 29"/><text class="sp" x="-9" y="19">pp</text><text class="lb" y="5">HSPA8</text></g>
<g id="a-YWHAZ" transform="translate(528 193)"><circle r="33" fill="#FF5F3E"/><path class="sl" d="M-21 -5L-9 32"/><text class="sp" x="-14" y="19">pp</text><text class="lb" y="5">YWHAZ</text></g>
<g id="a-YWHAE" transform="translate(550 288)"><circle r="33" fill="#FF6B3C"/><path class="sl" d="M-19 -27L-17 28"/><text class="sp" x="-15" y="19">pp</text><text class="lb" y="5">YWHAE</text></g>
<g id="a-YWHAG" transform="translate(535 388)"><circle r="33" fill="#FF783C"/><text class="lb" y="5">YWHAG</text></g>
<g id="a-YWHAB" transform="translate(458 467)"><circle r="33" fill="#FF863D"/><path class="sl" d="M-31 10L10 -31"/><text class="sp" x="-9" y="-15">pp</text><text class="lb" y="5">YWHAB</text></g>
<g id="a-ACTG1" transform="translate(358 512)"><circle r="33" fill="#FF933D"/><path class="sl" d="M-22 -24L19 -26"/><text class="sp" x="-3" y="-20">pp</text><text class="lb" y="5">ACTG1</text></g>
<g id="a-CAPZB" transform="translate(253 504)"><circle r="33" fill="#FF9E3C"/><text class="lb" y="5">CAPZB</text></g>
<g id="a-HSPA4" transform="translate(162 479)"><circle r="33" fill="#FFAB3A"/><text class="lb" y="5">HSPA4</text></g>
<g id="a-HSP90B1" transform="translate(85 405)"><circle r="33" fill="#FFB63A"/><path class="sl" d="M2 -32L29 -14"/><text class="sp" x="17" y="-16">pp</text><text class="lb" y="5">HSP90B1</text></g>
<g id="a-EIF2S1" transform="translate(57 316)"><circle r="33" fill="#FFC535"/><text class="lb" y="5">EIF2S1</text></g>
<g id="a-EIF4A2" transform="translate(72 219)"><circle r="33" fill="#FFD232"/><path class="sl" d="M6 32L22 -22"/><text class="sp" x="10" y="20">pp</text><text class="lb" y="5">EIF4A2</text></g>
<g id="a-EIF4A1" transform="translate(115 133)"><circle r="33" fill="#FFDF2F"/><path class="sl" d="M6 32L30 -12"/><text class="sp" x="15" y="20">pp</text><text class="lb" y="5">EIF4A1</text></g>
<g id="a-EIF5A" transform="translate(199 75)"><circle r="33" fill="#FFE42F"/><path class="sl" d="M-18 27L30 8"/><text class="sp" x="5" y="21">pp</text><text class="lb" y="5">EIF5A</text></g>
</g>

<g id="nodes-b">
<g id="b-HSP90AA1" transform="translate(800 80)"><circle r="33" fill="#FFE53A"/><text class="lb" y="5">HSP90AA1</text></g>
<g id="b-EIF5A" transform="translate(893 50)"><circle r="33" fill="#FF4A4F"/><path class="sl" d="M-26 20L27 17"/><text class="sp" x="1" y="23">pp</text><text class="lb" y="5">EIF5A</text></g>
<g id="b-EIF4A1" transform="translate(989 60)"><circle r="33" fill="#FF4A4F"/><path class="sl" d="M-31 12L17 28"/><text class="sp" x="-9" y="22">pp</text><text class="lb" y="5">EIF4A1</text></g>
<g id="b-EIF4A2" transform="translate(1067 108)"><circle r="33" fill="#FF5050"/><text class="lb" y="5">EIF4A2</text></g>
<g id="b-HSP90B1" transform="translate(1128 181)"><circle r="33" fill="#FF5848"/><text class="lb" y="5">HSP90B1</text></g>
<g id="b-YWHAG" transform="translate(1152 278)"><circle r="33" fill="#FF7045"/><text class="lb" y="5">YWHAG</text></g>
<g id="b-ACTG1" transform="translate(1135 375)"><circle r="33" fill="#FF7C46"/><path class="sl" d="M-2 -32L-17 28"/><text class="lb" y="5">ACTG1</text></g>
<g id="b-YWHAB" transform="translate(1089 459)"><circle r="33" fill="#FF8245"/><path class="sl" d="M-31 -8L-5 -32"/><text class="sp" x="-19" y="-16">pp</text><text class="lb" y="5">YWHAB</text></g>
<g id="b-CAPZB" transform="translate(1002 500)"><circle r="33" fill="#FF8646"/><text class="lb" y="5">CAPZB</text></g>
<g id="b-TPM3" transform="translate(893 510)"><circle r="33" fill="#FF8C48"/><text class="lb" y="5">TPM3</text></g>
<g id="b-EIF2S1" transform="translate(791 478)"><circle r="33" fill="#FF8F48"/><path class="sl" d="M-16 -29L24 -6"/><text class="sp" x="10" y="-16">pp</text><text class="lb" y="5">EIF2S1</text></g>
<g id="b-YWHAE" transform="translate(714 409)"><circle r="33" fill="#FFA844"/><text class="lb" y="5">YWHAE</text></g>
<g id="b-YWHAZ" transform="translate(681 324)"><circle r="33" fill="#FFBF46"/><text class="lb" y="5">YWHAZ</text></g>
<g id="b-SNCA" transform="translate(682 230)"><circle r="33" fill="#FFCE45"/><text class="lb" y="5">SNCA</text></g>
<g id="b-WDR1" transform="translate(726 140)"><circle r="33" fill="#FFD740"/><path class="sl" d="M1 32L32 -6"/><text class="sp" x="12" y="20">pp</text><text class="lb" y="5">WDR1</text></g>
</g>

<g id="nodes-c">
<g id="c-ACTB" transform="translate(294 628)"><circle r="33" fill="#FF4A50"/><path class="sl" d="M-25 21L30 16"/><text class="sp" x="-6" y="24">pp</text><text class="lb" y="5">ACTB</text></g>
<g id="c-HSP90AA1" transform="translate(394 648)"><circle r="33" fill="#FF5F52"/><path class="sl" d="M-31 9L24 21"/><text class="sp" x="-6" y="19">pp</text><text class="lb" y="5">HSP90AA1</text></g>
<g id="c-HSPA8" transform="translate(483 695)"><circle r="33" fill="#FF5850"/><path class="sl" d="M-32 5L-4 32"/><text class="sp" x="-17" y="22">pp</text><text class="lb" y="5">HSPA8</text></g>
<g id="c-YWHAZ" transform="translate(532 779)"><circle r="33" fill="#FF6A4A"/><path class="sl" d="M-22 -22L-8 32"/><text class="sp" x="-12" y="20">pp</text><text class="lb" y="5">YWHAZ</text></g>
<g id="c-YWHAE" transform="translate(548 877)"><circle r="33" fill="#FF8046"/><path class="sl" d="M-16 -29L-18 28"/><text class="lb" y="5">YWHAE</text></g>
<g id="c-HSPA4" transform="translate(528 976)"><circle r="33" fill="#FF8248"/><path class="sl" d="M-14 -30L-22 24"/><text class="sp" x="-15" y="-16">pp</text><text class="lb" y="5">HSPA4</text></g>
<g id="c-YWHAG" transform="translate(469 1051)"><circle r="33" fill="#FF9645"/><text class="lb" y="5">YWHAG</text></g>
<g id="c-ACTG1" transform="translate(374 1092)"><circle r="33" fill="#FF9040"/><path class="sl" d="M-30 -3L25 -21"/><text class="sp" x="-1" y="-16">pp</text><text class="lb" y="5">ACTG1</text></g>
<g id="c-YWHAB" transform="translate(273 1103)"><circle r="33" fill="#FF9C45"/><path class="sl" d="M-27 -19L31 -10"/><text class="sp" x="4" y="-17">pp</text><text class="lb" y="5">YWHAB</text></g>
<g id="c-CAPZB" transform="translate(180 1072)"><circle r="33" fill="#FF9240"/><path class="sl" d="M-25 -21L31 -10"/><text class="sp" x="8" y="-16">pp</text><text class="lb" y="5">CAPZB</text></g>
<g id="c-HSP90B1" transform="translate(105 1005)"><circle r="33" fill="#FFA845"/><text class="lb" y="5">HSP90B1</text></g>
<g id="c-EIF2S1" transform="translate(65 918)"><circle r="33" fill="#FFC545"/><text class="lb" y="5">EIF2S1</text></g>
<g id="c-EIF4A2" transform="translate(57 818)"><circle r="33" fill="#FFD03F"/><text class="lb" y="5">EIF4A2</text></g>
<g id="c-TPM3" transform="translate(100 722)"><circle r="33" fill="#FFE53A"/><path class="sl" d="M4 32L32 -6"/><text class="sp" x="14" y="20">pp</text><text class="lb" y="5">TPM3</text></g>
<g id="c-EIF5A" transform="translate(182 654)"><circle r="33" fill="#FFE53A"/><path class="sl" d="M-17 28L31 9"/><text class="sp" x="13" y="23">pp</text><text class="lb" y="5">EIF5A</text></g>
</g>

<g id="nodes-d">
<g id="d-ACTB" transform="translate(890 626)"><circle r="33" fill="#FF4A50"/><path class="sl" d="M-28 17L31 13"/><text class="sp" y="22">pp</text><text class="lb" y="5">ACTB</text></g>
<g id="d-HSP90AA1" transform="translate(988 636)"><circle r="33" fill="#FF5850"/><path class="sl" d="M-31 10L26 18"/><text class="sp" x="-7" y="21">pp</text><text class="lb" y="5">HSP90AA1</text></g>
<g id="d-HSPA8" transform="translate(1071 684)"><circle r="33" fill="#FF6050"/><path class="sl" d="M-31 4L0 33"/><text class="sp" x="-13" y="21">pp</text><text class="lb" y="5">HSPA8</text></g>
<g id="d-HSPA4" transform="translate(1130 765)"><circle r="33" fill="#FF6A4A"/><path class="sl" d="M-20 -26L-7 32"/><text class="sp" x="-12" y="20">pp</text><text class="lb" y="5">HSPA4</text></g>
<g id="d-YWHAZ" transform="translate(1153 864)"><circle r="33" fill="#FF8045"/><path class="sl" d="M-14 -30L-18 27"/><text class="lb" y="5">YWHAZ</text></g>
<g id="d-YWHAE" transform="translate(1140 959)"><circle r="33" fill="#FF8A45"/><path class="sl" d="M-3 -33L-21 25"/><text class="sp" x="-14" y="-16">pp</text><text class="lb" y="5">YWHAE</text></g>
<g id="d-ACTG1" transform="translate(1088 1034)"><circle r="33" fill="#FF9E45"/><path class="sl" d="M-30 14L9 -31"/><text class="sp" x="-12" y="-16">pp</text><text class="lb" y="5">ACTG1</text></g>
<g id="d-YWHAG" transform="translate(1003 1087)"><circle r="33" fill="#FFB045"/><path class="sl" d="M-31 -11L21 -25"/><text class="sp" x="-12" y="-19">pp</text><text class="lb" y="5">YWHAG</text></g>
<g id="d-YWHAB" transform="translate(891 1100)"><circle r="33" fill="#FFB045"/><path class="sl" d="M-31 -11L27 -19"/><text class="sp" x="4" y="-18">pp</text><text class="lb" y="5">YWHAB</text></g>
<g id="d-CAPZB" transform="translate(784 1061)"><circle r="33" fill="#FFAD45"/><path class="sl" d="M0 -33L32 -9"/><text class="sp" x="17" y="-18">pp</text><text class="lb" y="5">CAPZB</text></g>
<g id="d-HSP90B1" transform="translate(714 982)"><circle r="33" fill="#FFB845"/><text class="lb" y="5">HSP90B1</text></g>
<g id="d-SNCA" transform="translate(679 891)"><circle r="33" fill="#FFB545"/><path class="sl" d="M13 -30L24 22"/><text class="lb" y="5">SNCA</text></g>
<g id="d-EIF2S1" transform="translate(683 796)"><circle r="33" fill="#FFC445"/><text class="lb" y="5">EIF2S1</text></g>
<g id="d-EIF4A2" transform="translate(728 716)"><circle r="33" fill="#FFD540"/><text class="lb" y="5">EIF4A2</text></g>
<g id="d-TPM3" transform="translate(794 655)"><circle r="33" fill="#FFE53A"/><path class="sl" d="M-13 30L31 10"/><text class="sp" x="10" y="20">pp</text><text class="lb" y="5">TPM3</text></g>
</g>

<g id="nodes-e">
<g id="e-ACTB" transform="translate(272 1210)"><circle r="33" fill="#FF4A50"/><text class="lb" y="5">ACTB</text></g>
<g id="e-HSPA8" transform="translate(376 1212)"><circle r="33" fill="#FF5050"/><path class="sl" d="M-28 17L16 29"/><text class="sp" x="-7" y="22">pp</text><text class="lb" y="5">HSPA8</text></g>
<g id="e-HSP90AA1" transform="translate(461 1258)"><circle r="33" fill="#FF5A4C"/><path class="sl" d="M-27 14L1 33"/><text class="sp" x="-13" y="20">pp</text><text class="lb" y="5">HSP90AA1</text></g>
<g id="e-YWHAZ" transform="translate(516 1338)"><circle r="33" fill="#FF6A4C"/><path class="sl" d="M-19 -21L1 33"/><text class="sp" x="-8" y="20">pp</text><text class="lb" y="5">YWHAZ</text></g>
<g id="e-HSPA4" transform="translate(548 1432)"><circle r="33" fill="#FF6E4A"/><text class="sp" x="-18" y="19">pp</text><text class="lb" y="5">HSPA4</text></g>
<g id="e-YWHAE" transform="translate(534 1533)"><circle r="33" fill="#FF8045"/><text class="lb" y="5">YWHAE</text></g>
<g id="e-YWHAG" transform="translate(476 1616)"><circle r="33" fill="#FF8A45"/><path class="sl" d="M-28 -2L0 -32"/><text class="sp" x="-15" y="-17">pp</text><text class="lb" y="5">YWHAG</text></g>
<g id="e-HSP90B1" transform="translate(383 1662)"><circle r="33" fill="#FF8A45"/><path class="sl" d="M-31 -7L28 -16"/><text class="sp" x="-6" y="-16">pp</text><text class="lb" y="5">HSP90B1</text></g>
<g id="e-CAPZB" transform="translate(278 1677)"><circle r="33" fill="#FFA845"/><path class="sl" d="M-27 -17L28 -18"/><text class="sp" x="-5" y="-20">pp</text><text class="lb" y="5">CAPZB</text></g>
<g id="e-YWHAB" transform="translate(165 1653)"><circle r="33" fill="#FFAA45"/><path class="sl" d="M-2 -33L28 -18"/><text class="sp" x="18" y="-20">pp</text><text class="lb" y="5">YWHAB</text></g>
<g id="e-ACTG1" transform="translate(98 1584)"><circle r="33" fill="#FFB845"/><text class="lb" y="5">ACTG1</text></g>
<g id="e-EIF2S1" transform="translate(58 1490)"><circle r="33" fill="#FFC545"/><text class="lb" y="5">EIF2S1</text></g>
<g id="e-EIF4A2" transform="translate(59 1396)"><circle r="33" fill="#FFD040"/><text class="lb" y="5">EIF4A2</text></g>
<g id="e-SNCA" transform="translate(100 1309)"><circle r="33" fill="#FFD840"/><text class="lb" y="5">SNCA</text></g>
<g id="e-TPM3" transform="translate(174 1243)"><circle r="33" fill="#FFE53A"/><path class="sl" d="M-13 30L31 6"/><text class="sp" x="10" y="20">pp</text><text class="lb" y="5">TPM3</text></g>
</g>

<g id="nodes-f">
<g id="f-ACTB" transform="translate(897 1207)"><circle r="33" fill="#FF4A50"/><path class="sl" d="M-25 21L31 12"/><text class="sp" x="-4" y="21">pp</text><text class="lb" y="5">ACTB</text></g>
<g id="f-HSPA8" transform="translate(996 1216)"><circle r="33" fill="#FF6A50"/><path class="sl" d="M-30 12L18 28"/><text class="sp" x="-8" y="21">pp</text><text class="lb" y="5">HSPA8</text></g>
<g id="f-HSPA4" transform="translate(1077 1263)"><circle r="33" fill="#FF8448"/><path class="sl" d="M-33 2L4 32"/><text class="sp" x="-11" y="20">pp</text><text class="lb" y="5">HSPA4</text></g>
<g id="f-ACTG1" transform="translate(1132 1346)"><circle r="33" fill="#FFA845"/><text class="lb" y="5">ACTG1</text></g>
<g id="f-RAD23A" transform="translate(1155 1444)"><circle r="33" fill="#FFAA45"/><text class="lb" y="5">RAD23A</text></g>
<g id="f-SNCA" transform="translate(1135 1542)"><circle r="33" fill="#FFA845"/><text class="lb" y="5">SNCA</text></g>
<g id="f-HSP90AA1" transform="translate(1072 1620)"><circle r="33" fill="#FFA845"/><text class="lb" y="5">HSP90AA1</text></g>
<g id="f-YWHAB" transform="translate(986 1666)"><circle r="33" fill="#FFC545"/><path class="sl" d="M-29 -5L28 -17"/><text class="sp" x="-4" y="-16">pp</text><text class="lb" y="5">YWHAB</text></g>
<g id="f-TPM3" transform="translate(894 1680)"><circle r="33" fill="#FFE53A"/><path class="sl" d="M-29 -16L31 -12"/><text class="sp" x="-1" y="-17">pp</text><text class="lb" y="5">TPM3</text></g>
<g id="f-PPP2CB" transform="translate(797 1650)"><circle r="33" fill="#FFE53A"/><path class="sl" d="M-12 -30L32 -3"/><text class="sp" x="6" y="-18">pp</text><text class="lb" y="5">PPP2CB</text></g>
<g id="f-YWHAE" transform="translate(715 1581)"><circle r="33" fill="#FFE53A"/><text class="lb" y="5">YWHAE</text></g>
<g id="f-EIF5A" transform="translate(678 1494)"><circle r="33" fill="#FFE53A"/><path class="sl" d="M6 -32L21 25"/><text class="lb" y="5">EIF5A</text></g>
<g id="f-YWHAG" transform="translate(672 1398)"><circle r="33" fill="#FFE53A"/><text class="lb" y="5">YWHAG</text></g>
<g id="f-HSP90B1" transform="translate(717 1304)"><circle r="33" fill="#FFE53A"/><path class="sl" d="M0 32L32 -10"/><text class="sp" x="13" y="20">pp</text><text class="lb" y="5">HSP90B1</text></g>
<g id="f-YWHAZ" transform="translate(791 1234)"><circle r="33" fill="#FFE53A"/><path class="sl" d="M-6 32L31 11"/><text class="sp" x="14" y="22">pp</text><text class="lb" y="5">YWHAZ</text></g>
</g>

<g id="captions">
<text class="cap" x="301" y="579">(<tspan font-weight="bold">a</tspan>) MCC</text>
<text class="cap" x="917" y="579">(<tspan font-weight="bold">b</tspan>) DMNC</text>
<text class="cap" x="301" y="1164">(<tspan font-weight="bold">c</tspan>) MNC</text>
<text class="cap" x="917" y="1164">(<tspan font-weight="bold">d</tspan>) Degree</text>
<text class="cap" x="299" y="1738">(<tspan font-weight="bold">e</tspan>) EPC</text>
<text class="cap" x="917" y="1738">(f) Bottleneck</text>
</g>
</svg>
